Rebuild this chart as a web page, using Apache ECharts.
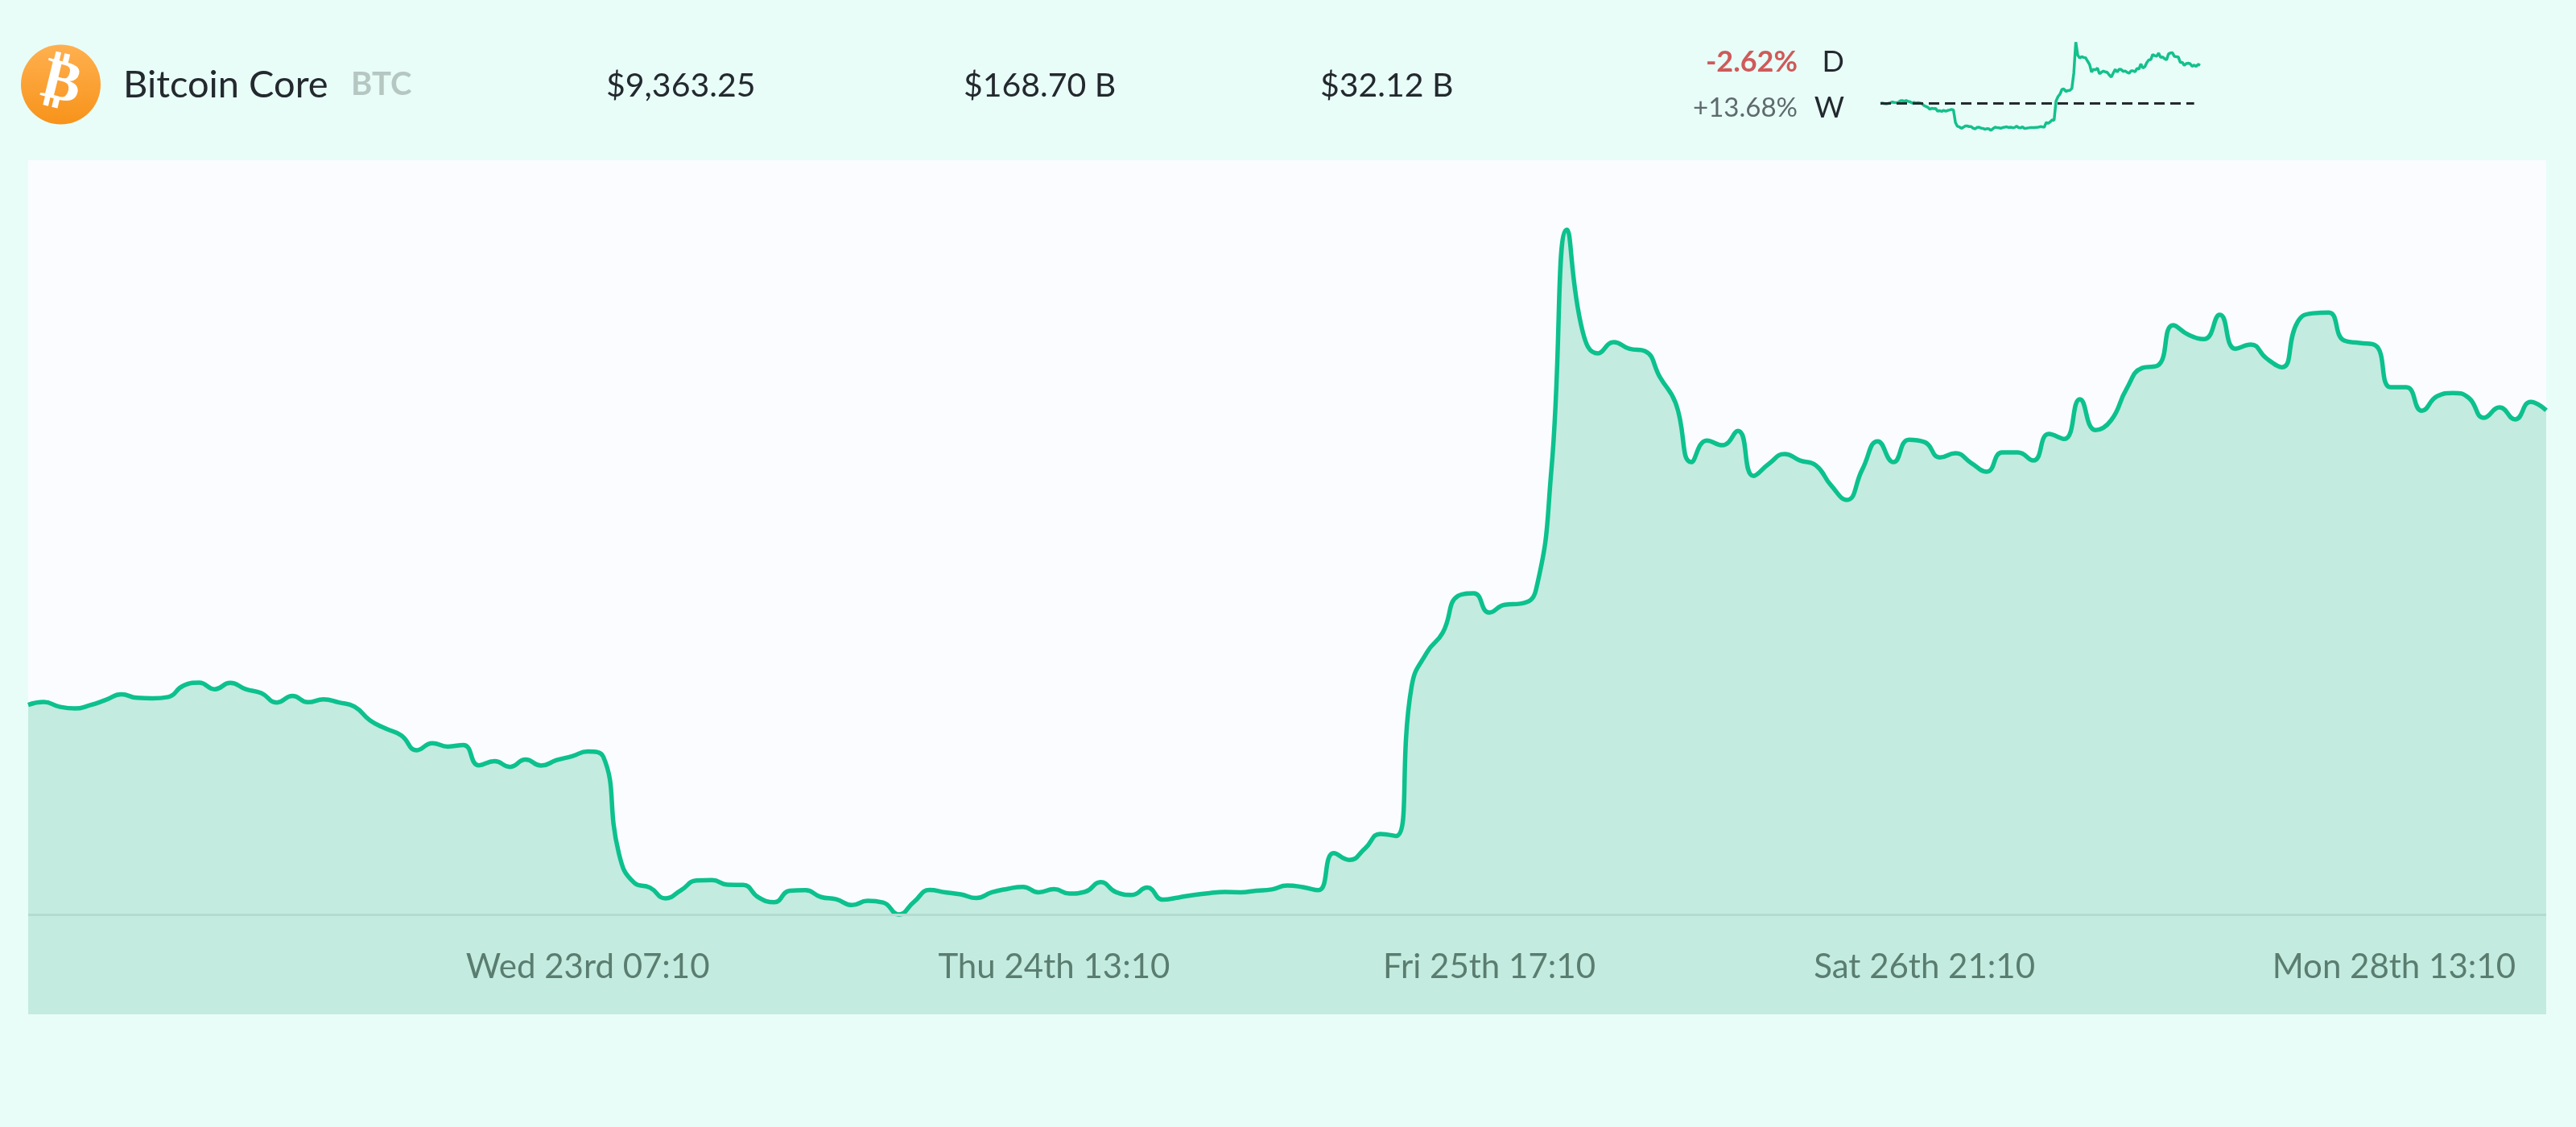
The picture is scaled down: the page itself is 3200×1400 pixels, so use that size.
<!DOCTYPE html>
<html>
<head>
<meta charset="utf-8">
<title>Bitcoin Core</title>
<script src="https://cdn.jsdelivr.net/npm/echarts@6/dist/echarts.min.js"></script>
<style>
  html, body { margin: 0; padding: 0; background: #e8fdf8; }
  #chart { width: 3200px; height: 1400px; }
</style>
</head>
<body>
<div id="chart"></div>
<script>
// hourly prices in USD, Mon 21st 19:10 to Mon 28th 13:10
var prices = [
  8234, 8245, 8227, 8220, 8233, 8253, 8274, 8261, 8259, 8264,
  8308, 8319, 8294, 8318, 8294, 8279, 8243, 8268, 8244, 8255,
  8243, 8227, 8174, 8143, 8117, 8060, 8087, 8074, 8080, 8002,
  8018, 7996, 8024, 8001, 8022, 8037, 8055, 8035, 7665, 7551,
  7533, 7492, 7523, 7560, 7562, 7544, 7543, 7495, 7477, 7521,
  7523, 7497, 7488, 7466, 7482, 7476, 7430, 7479, 7524, 7515,
  7507, 7493, 7515, 7528, 7536, 7515, 7527, 7510, 7517, 7554,
  7515, 7505, 7533, 7487, 7495, 7505, 7512, 7516, 7515, 7521,
  7526, 7541, 7535, 7523, 7665, 7639, 7683, 7739, 7731, 8303,
  8436, 8510, 8652, 8662, 8588, 8618, 8622, 8674, 9137, 10057,
  9668, 9582, 9625, 9600, 9591, 9489, 9390, 9165, 9248, 9230,
  9285, 9112, 9159, 9196, 9171, 9153, 9075, 9020, 9137, 9245,
  9165, 9251, 9242, 9183, 9199, 9162, 9128, 9202, 9202, 9171,
  9273, 9254, 9406, 9288, 9325, 9446, 9526, 9535, 9690, 9653,
  9637, 9730, 9600, 9616, 9563, 9529, 9702, 9736, 9739, 9631,
  9622, 9613, 9452, 9452, 9362, 9418, 9430, 9412, 9335, 9375,
  9329, 9396, 9363.25
];

var dayNames = ['Mon 21st', 'Tue 22nd', 'Wed 23rd', 'Thu 24th', 'Fri 25th', 'Sat 26th', 'Sun 27th', 'Mon 28th'];
var shownTicks = [36, 66, 94, 122, 162];
var baselinePrice = 7430;

var hours = [];
for (var i = 0; i < prices.length; i++) {
  var h = 19 + i;
  var hh = h % 24;
  hours.push(dayNames[Math.floor(h / 24)] + ' ' + (hh < 10 ? '0' + hh : hh) + ':10');
}

var font = 'Lato';
var dark = '#23292e';

function label(text, x, y, size, color, align, weight) {
  return {
    type: 'text',
    x: x,
    y: y,
    style: {
      text: text,
      fontFamily: font,
      fontSize: size,
      fontWeight: weight || 400,
      fill: color,
      align: align || 'left',
      verticalAlign: 'middle'
    }
  };
}

var chart = echarts.init(document.getElementById('chart'));
var option = {
  animation: false,
  backgroundColor: '#e8fdf8',
  grid: [
    { left: 35, right: 37, top: 199, height: 1061, show: true, backgroundColor: '#fbfcff', borderWidth: 0 },
    { left: 2336, width: 397, top: 52, height: 110 }
  ],
  xAxis: [{
    type: 'category',
    gridIndex: 0,
    data: hours,
    boundaryGap: false,
    z: 10,
    axisLine: { show: false },
    axisTick: { show: false },
    axisLabel: {
      inside: true,
      margin: 38,
      color: '#5a7d70',
      fontFamily: font,
      fontSize: 42,
      alignMaxLabel: 'right',
      interval: function (index) {
        return shownTicks.indexOf(index) >= 0;
      },
      formatter: function (value, index) {
        return index === prices.length - 1 ? '{last|' + value + '}' : value;
      },
      rich: {
        last: { color: '#5a7d70', fontFamily: font, fontSize: 42, padding: [0, 38, 0, 0] }
      }
    }
  }, {
    type: 'category',
    gridIndex: 1,
    data: hours,
    boundaryGap: false,
    show: false
  }],
  yAxis: [{
    type: 'value',
    gridIndex: 0,
    min: 7047,
    max: 10323,
    show: false
  }, {
    type: 'value',
    gridIndex: 1,
    min: 7430,
    max: 10064,
    show: false
  }],
  series: [{
    name: 'price',
    type: 'line',
    xAxisIndex: 0,
    yAxisIndex: 0,
    data: prices,
    showSymbol: false,
    smooth: 0.5,
    lineStyle: { color: '#0cc18e', width: 5.5 },
    areaStyle: { color: '#c3ebdf', opacity: 1 },
    markLine: {
      silent: true,
      symbol: 'none',
      label: { show: false },
      lineStyle: { color: '#b3dbcf', width: 3, type: 'solid' },
      data: [{ yAxis: baselinePrice }]
    }
  }, {
    name: 'week',
    type: 'line',
    xAxisIndex: 1,
    yAxisIndex: 1,
    data: prices,
    showSymbol: false,
    lineStyle: { color: '#14c08c', width: 3.5 },
    markLine: {
      silent: true,
      symbol: 'none',
      label: { show: false },
      lineStyle: { color: '#23292e', width: 3, type: [13, 7] },
      data: [[{ xAxis: 0, yAxis: prices[0] }, { xAxis: 159, yAxis: prices[0] }]]
    }
  }],
  graphic: [
    {
      type: 'circle',
      shape: { cx: 75.5, cy: 105, r: 49.5 },
      style: {
        fill: new echarts.graphic.LinearGradient(0, 0, 0, 1, [
          { offset: 0, color: '#ffb04f' },
          { offset: 1, color: '#f7931a' }
        ])
      }
    },
    {
      type: 'text',
      x: 76,
      y: 105,
      rotation: -0.24,
      style: {
        text: '\u20bf',
        fontFamily: 'DejaVu Sans',
        fontWeight: 700,
        fontSize: 72,
        fill: '#ffffff',
        align: 'center',
        verticalAlign: 'middle'
      }
    },
    label('Bitcoin Core', 153, 106, 47, dark),
    label('BTC', 436, 105, 40, '#b6c7c2', 'left', 700),
    label('$9,363.25', 753, 107, 41, dark),
    label('$168.70 B', 1197, 107, 41, dark),
    label('$32.12 B', 1640, 107, 41, dark),
    label('-2.62%', 2233, 77, 36, '#cf5a5a', 'right', 700),
    label('D', 2291, 77, 36, dark, 'right'),
    label('+13.68%', 2233, 134, 33, '#5f6a6c', 'right'),
    label('W', 2291, 134, 36, dark, 'right')
  ]
};
chart.setOption(option);
</script>
</body>
</html>
